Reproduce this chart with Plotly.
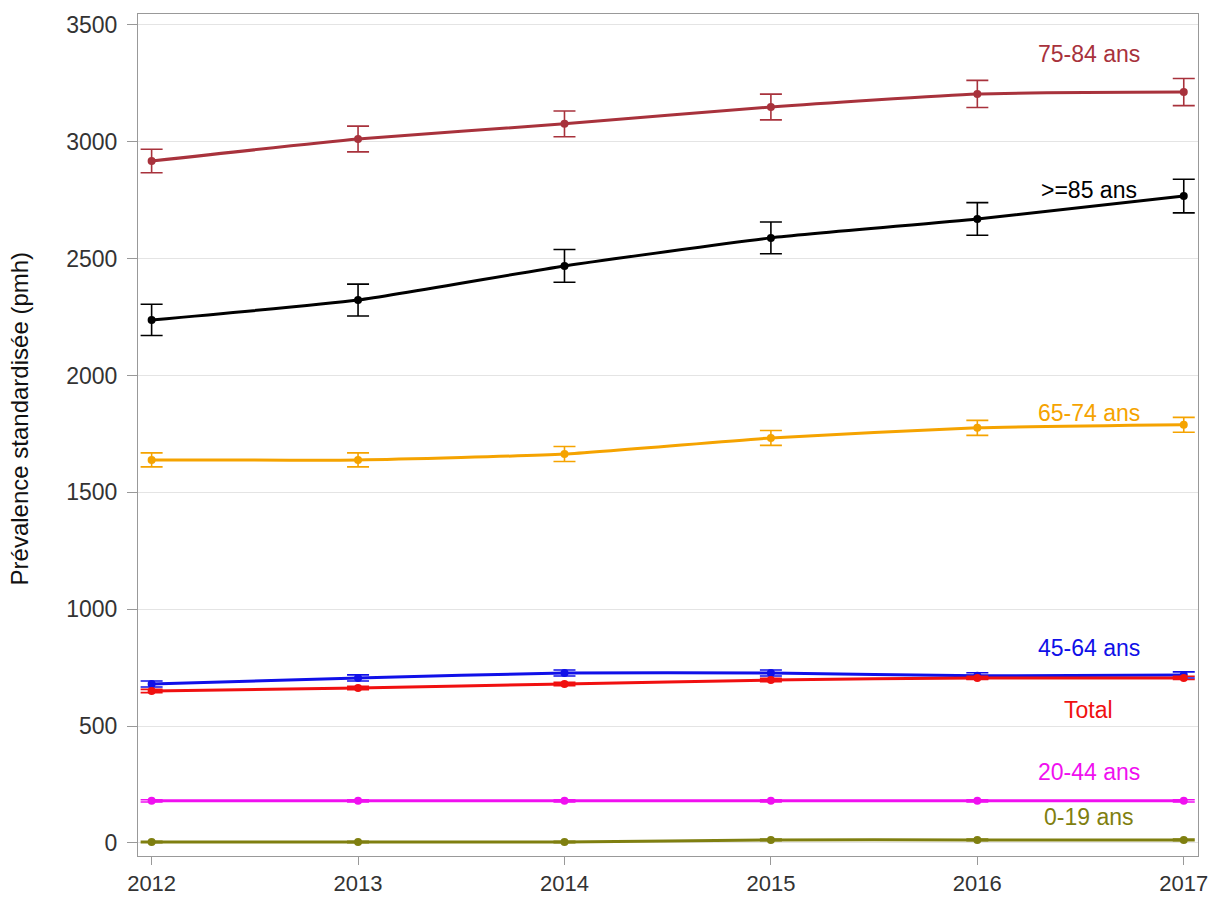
import plotly.graph_objects as go

years = [2012, 2013, 2014, 2015, 2016, 2017]

# Standardised prevalence (per million inhabitants) by age group, with 95% CI half-widths
prev_75_84 = [2918, 3012, 3077, 3149, 3205, 3213]
ci_75_84 = [50, 55, 55, 55, 58, 58]
prev_85 = [2238, 2323, 2469, 2589, 2670, 2768]
ci_85 = [67, 68, 70, 68, 70, 72]
prev_65_74 = [1639, 1639, 1664, 1733, 1776, 1789]
ci_65_74 = [30, 30, 32, 32, 32, 32]
prev_45_64 = [680, 706, 727, 727, 715, 719]
ci_45_64 = [13, 13, 13, 13, 13, 13]
prev_total = [650, 663, 680, 697, 706, 706]
ci_total = [7, 7, 7, 7, 7, 7]
prev_20_44 = [180, 180, 180, 180, 180, 180]
ci_20_44 = [5, 5, 5, 5, 5, 5]
prev_0_19 = [4, 4, 4, 13, 13, 13]
ci_0_19 = [3, 3, 3, 3, 3, 3]

series = [
    ("75-84 ans", prev_75_84, ci_75_84, "#A8323C", 3375),
    (">=85 ans", prev_85, ci_85, "#000000", 2794),
    ("65-74 ans", prev_65_74, ci_65_74, "#F5A300", 1840),
    ("45-64 ans", prev_45_64, ci_45_64, "#1010E8", 834),
    ("Total", prev_total, ci_total, "#F01010", 569),
    ("20-44 ans", prev_20_44, ci_20_44, "#F010F0", 304),
    ("0-19 ans", prev_0_19, ci_0_19, "#7F7F10", 111),
]

fig = go.Figure()
annotations = []
for name, vals, ci, color, label_y in series:
    fig.add_trace(go.Scatter(
        x=years, y=vals, name=name, mode="lines+markers",
        line=dict(color=color, width=3, shape="spline", smoothing=0.5),
        marker=dict(color=color, size=8),
        error_y=dict(type="data", array=ci, visible=True, color=color,
                     thickness=1.6, width=11),
        showlegend=False,
    ))
    annotations.append(dict(
        x=2016.54, y=label_y, xref="x", yref="y", text=name, showarrow=False,
        font=dict(family="Arial, Liberation Sans, sans-serif", size=23, color=color),
        xanchor="center", yanchor="middle",
    ))

# Y-axis title placed as a rotated annotation
annotations.append(dict(
    x=-0.112, y=0.52, xref="paper", yref="paper", text="Prévalence standardisée (pmh)",
    textangle=-90, showarrow=False, xanchor="center", yanchor="middle",
    font=dict(family="Arial, Liberation Sans, sans-serif", size=24, color="#111111"),
))

fig.update_layout(
    width=1218, height=898,
    margin=dict(l=138, r=20, t=14, b=42),
    paper_bgcolor="white", plot_bgcolor="white",
    font=dict(family="Arial, Liberation Sans, sans-serif", size=22, color="#333333"),
    annotations=annotations,
)
fig.update_xaxes(
    range=[2011.934, 2017.069], tickvals=years, ticktext=[str(y) for y in years],
    showgrid=False, showline=True, linecolor="#999999", linewidth=1, mirror=True,
    ticks="outside", ticklen=8, tickcolor="#999999", zeroline=False,
    ticklabelstandoff=0, automargin=False,
    tickfont=dict(size=22, color="#333333"),
)
fig.update_yaxes(
    range=[-56, 3547], tickvals=[0, 500, 1000, 1500, 2000, 2500, 3000, 3500],
    showgrid=True, gridcolor="#E4E4E4", gridwidth=1,
    showline=True, linecolor="#999999", linewidth=1, mirror=True,
    ticks="outside", ticklen=10, tickcolor="#999999", zeroline=False,
    ticklabelstandoff=5, automargin=False,
    tickfont=dict(size=23, color="#333333"),
)

fig.write_html("out.html")
